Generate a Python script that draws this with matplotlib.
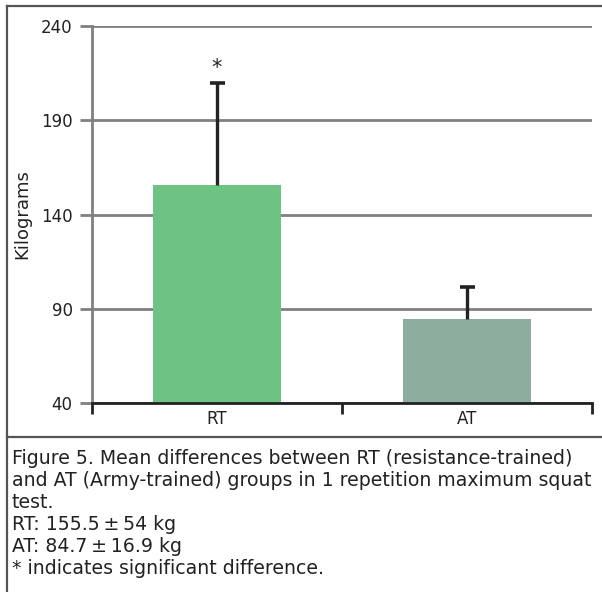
import matplotlib
matplotlib.use("Agg")
from matplotlib import pyplot as plt
from matplotlib.lines import Line2D

plt.rcParams["font.family"] = ["DejaVu Sans"]

groups = ["RT", "AT"]
means = [155.5, 84.7]
sds = [54, 16.9]
bar_colors = ["#6ec283", "#8dae9e"]
yticks = [40, 90, 140, 190, 240]

fig = plt.figure(figsize=(6.02, 5.92), dpi=100)
W, H = 602, 592

ax = fig.add_axes([92 / W, 1 - 403 / H, 500 / W, 377 / H])
x = list(range(len(groups)))
tops = [m + s for m, s in zip(means, sds)]
ax.bar(x, [m - 40 for m in means], bottom=40, width=0.51, color=bar_colors,
       zorder=3)
# one-sided error bars: stem from bar top up to mean + sd, cap on top only
ax.vlines(x, means, tops, color="#222222", linewidth=2.4, zorder=4)
ax.hlines(tops, [i - 0.03 for i in x], [i + 0.03 for i in x],
          color="#222222", linewidth=2.6, zorder=4)
ax.text(x[0], tops[0] + 8, "*", ha="center", va="center",
        fontsize=15, color="#222222")

ax.set_xlim(-0.5, 1.5)
ax.set_ylim(40, 240)
ax.set_yticks(yticks)
ax.yaxis.grid(True, color="#808080", linewidth=2, zorder=1)
ax.tick_params(axis="y", length=9, width=2, color="#808080", labelsize=12,
               pad=5, labelcolor="#222222")

ax.set_xticks([-0.5, 0.5, 1.5])
ax.set_xticklabels([])
ax.set_xticks(x, minor=True)
ax.set_xticklabels(groups, minor=True)
ax.tick_params(axis="x", which="major", length=8, width=2, color="#222222")
ax.tick_params(axis="x", which="minor", length=0, labelsize=12, pad=5,
               labelcolor="#222222")

for side in ["top", "right"]:
    ax.spines[side].set_visible(False)
ax.spines["left"].set_color("#808080")
ax.spines["left"].set_linewidth(2)
ax.spines["bottom"].set_color("#222222")
ax.spines["bottom"].set_linewidth(2)
ax.spines["bottom"].set_zorder(5)

fig.text(22 / W, 1 - 214 / H, "Kilograms", rotation=90, ha="center",
         va="center", fontsize=13, color="#222222")

# frame around the figure and the caption box
frame = "#555555"
fig.add_artist(Line2D([7 / W, 7 / W], [0, 1 - 6 / H], color=frame, lw=1.6))
fig.add_artist(Line2D([7 / W, 1], [1 - 6 / H, 1 - 6 / H], color=frame, lw=1.6))
fig.add_artist(Line2D([7 / W, 1], [1 - 437 / H, 1 - 437 / H], color=frame, lw=1.6))

caption = [
    "Figure 5. Mean differences between RT (resistance-trained)",
    "and AT (Army-trained) groups in 1 repetition maximum squat",
    "test.",
    f"{groups[0]}: {means[0]}\u2009\u00b1\u2009{sds[0]} kg",
    f"{groups[1]}: {means[1]}\u2009\u00b1\u2009{sds[1]} kg",
    "* indicates significant difference.",
]
texts = []
for i, line in enumerate(caption):
    texts.append(fig.text(12 / W, 1 - (458 + 22 * i) / H, line, ha="left",
                          va="center", fontsize=12, color="#222222"))

# size the caption so its widest line fits inside the box
renderer = fig.canvas.get_renderer()
w = max(t.get_window_extent(renderer).width for t in texts)
for t in texts:
    t.set_fontsize(12 * 578 / w)

fig.savefig("out.png", dpi=100)
